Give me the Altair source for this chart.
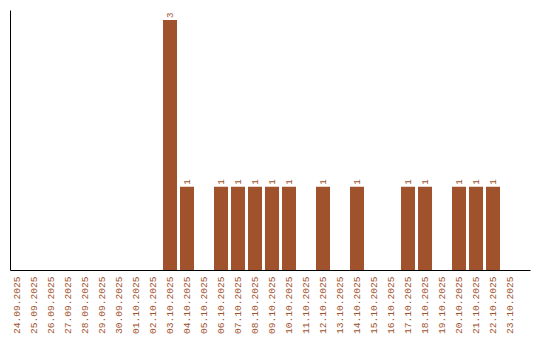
import altair as alt
import pandas as pd

dates = ["24.09.2025", "25.09.2025", "26.09.2025", "27.09.2025", "28.09.2025",
         "29.09.2025", "30.09.2025", "01.10.2025", "02.10.2025", "03.10.2025",
         "04.10.2025", "05.10.2025", "06.10.2025", "07.10.2025", "08.10.2025",
         "09.10.2025", "10.10.2025", "11.10.2025", "12.10.2025", "13.10.2025",
         "14.10.2025", "15.10.2025", "16.10.2025", "17.10.2025", "18.10.2025",
         "19.10.2025", "20.10.2025", "21.10.2025", "22.10.2025", "23.10.2025"]
counts = [0, 0, 0, 0, 0, 0, 0, 0, 0, 3,
          1, 0, 1, 1, 1, 1, 1, 0, 1, 0,
          1, 0, 0, 1, 1, 0, 1, 1, 1, 0]

df = pd.DataFrame({"date": dates, "count": counts})
df["label"] = df["count"].apply(lambda v: str(v) if v > 0 else "")

color = "#A0522D"
font = "Liberation Mono"

x = alt.X("date:N", sort=dates, title=None,
          scale=alt.Scale(paddingInner=0.1765, paddingOuter=0.382, align=0),
          axis=alt.Axis(labelAngle=270, labelFont=font, labelFontSize=9.6,
                        labelColor=color, ticks=False, labelPadding=6,
                        domainColor="black", labelAlign="right",
                        labelBaseline="middle"))
y = alt.Y("count:Q", title=None, scale=alt.Scale(domain=[0, 3.12], nice=False),
          axis=alt.Axis(labels=False, ticks=False, grid=False, domainColor="black"))

bars = alt.Chart(df).mark_bar(color=color).encode(x=x, y=y)
text = alt.Chart(df).mark_text(angle=270, align="left", baseline="middle", dx=2,
                               font=font, fontSize=9, color=color).encode(
    x=alt.X("date:N", sort=dates), y="count:Q", text="label:N")

chart = (bars + text).properties(
    width=520, height=260,
    autosize=alt.AutoSizeParams(type="none"),
    padding={"left": 10, "top": 10, "right": 10, "bottom": 70},
).configure(background="white").configure_view(stroke=None, strokeWidth=0)

chart.save("out.html", embed_options={"renderer": "svg", "actions": False})
